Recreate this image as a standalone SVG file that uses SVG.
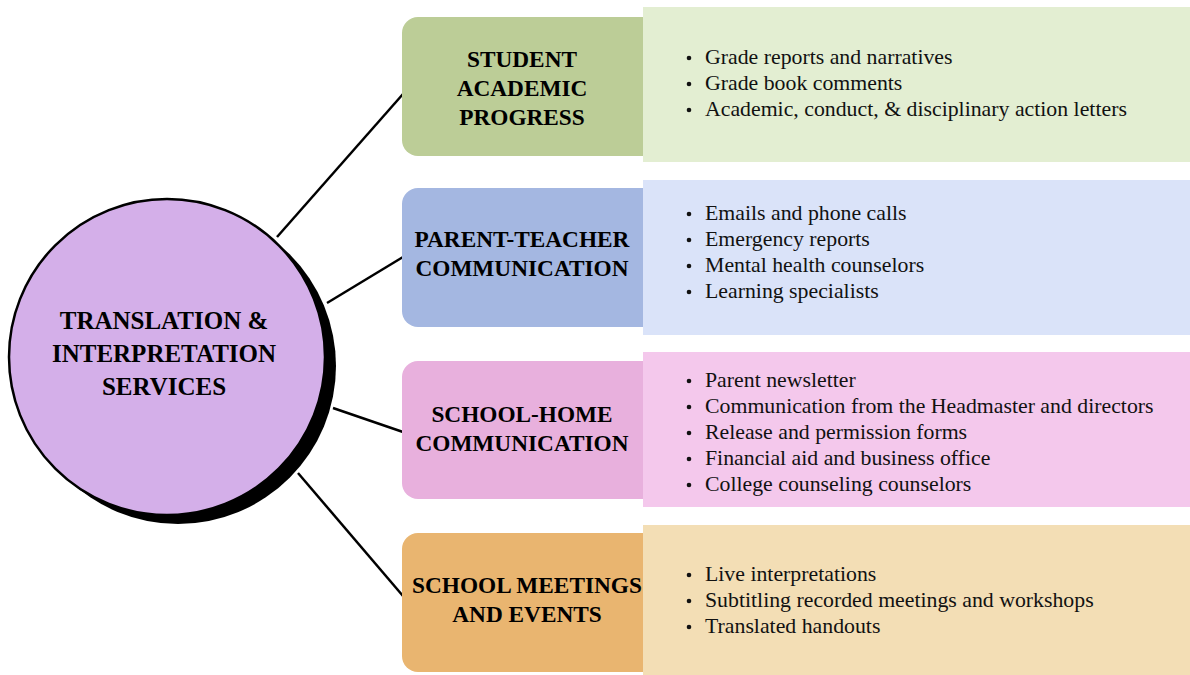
<svg xmlns="http://www.w3.org/2000/svg" width="1190" height="675" viewBox="0 0 1190 675">
  <style>
    .hub-text { font-family: "Liberation Serif", "Times New Roman", serif; font-weight: bold; font-size: 25px; fill: #000; text-anchor: middle; }
    .cat-text { font-family: "Liberation Serif", "Times New Roman", serif; font-weight: bold; font-size: 23.3px; fill: #000; text-anchor: middle; }
    .item { font-family: "Liberation Serif", "Times New Roman", serif; font-size: 21.8px; fill: #111; }
    .bullet { fill: #111; }
    .link { stroke: #000; stroke-width: 2.5; fill: none; }
  </style>
  <rect width="1190" height="675" fill="#ffffff"/>

  <!-- connectors from the hub to each category -->
  <g id="connectors">
    <line class="link" x1="277" y1="237" x2="403" y2="94"/>
    <line class="link" x1="327" y1="303" x2="403" y2="257"/>
    <line class="link" x1="333" y1="408" x2="403" y2="432"/>
    <line class="link" x1="298" y1="473" x2="403" y2="596"/>
  </g>

  <!-- central hub with drop shadow -->
  <g id="hub">
    <circle cx="178" cy="366" r="158" fill="#000"/>
    <circle cx="167" cy="357" r="158" fill="#d4afe9" stroke="#000" stroke-width="2.5"/>
    <text class="hub-text" x="164" y="329">TRANSLATION &amp;</text>
    <text class="hub-text" x="164" y="362">INTERPRETATION</text>
    <text class="hub-text" x="164" y="395">SERVICES</text>
  </g>

  <!-- category 1 -->
  <g id="student-academic-progress">
    <rect x="402" y="17" width="270" height="139" rx="16" fill="#bccd97"/>
    <rect x="643" y="7" width="547" height="155" fill="#e3eed2"/>
    <text class="cat-text" x="522" y="67">STUDENT</text>
    <text class="cat-text" x="522" y="96">ACADEMIC</text>
    <text class="cat-text" x="522" y="125">PROGRESS</text>
    <circle class="bullet" cx="689" cy="58" r="2.3"/>
    <circle class="bullet" cx="689" cy="84" r="2.3"/>
    <circle class="bullet" cx="689" cy="110" r="2.3"/>
    <text class="item" x="705" y="64">Grade reports and narratives</text>
    <text class="item" x="705" y="90">Grade book comments</text>
    <text class="item" x="705" y="116">Academic, conduct, &amp; disciplinary action letters</text>
  </g>

  <!-- category 2 -->
  <g id="parent-teacher-communication">
    <rect x="402" y="188" width="270" height="139" rx="16" fill="#a4b7e1"/>
    <rect x="643" y="180" width="547" height="155" fill="#dae3f9"/>
    <text class="cat-text" x="522" y="247">PARENT-TEACHER</text>
    <text class="cat-text" x="522" y="276">COMMUNICATION</text>
    <circle class="bullet" cx="689" cy="214" r="2.3"/>
    <circle class="bullet" cx="689" cy="240" r="2.3"/>
    <circle class="bullet" cx="689" cy="266" r="2.3"/>
    <circle class="bullet" cx="689" cy="292" r="2.3"/>
    <text class="item" x="705" y="220">Emails and phone calls</text>
    <text class="item" x="705" y="246">Emergency reports</text>
    <text class="item" x="705" y="272">Mental health counselors</text>
    <text class="item" x="705" y="298">Learning specialists</text>
  </g>

  <!-- category 3 -->
  <g id="school-home-communication">
    <rect x="402" y="361" width="270" height="138" rx="16" fill="#e8b0dd"/>
    <rect x="643" y="352" width="547" height="155" fill="#f4c8ec"/>
    <text class="cat-text" x="522" y="422">SCHOOL-HOME</text>
    <text class="cat-text" x="522" y="451">COMMUNICATION</text>
    <circle class="bullet" cx="689" cy="381" r="2.3"/>
    <circle class="bullet" cx="689" cy="407" r="2.3"/>
    <circle class="bullet" cx="689" cy="433" r="2.3"/>
    <circle class="bullet" cx="689" cy="459" r="2.3"/>
    <circle class="bullet" cx="689" cy="485" r="2.3"/>
    <text class="item" x="705" y="387">Parent newsletter</text>
    <text class="item" x="705" y="413">Communication from the Headmaster and directors</text>
    <text class="item" x="705" y="439">Release and permission forms</text>
    <text class="item" x="705" y="465">Financial aid and business office</text>
    <text class="item" x="705" y="491">College counseling counselors</text>
  </g>

  <!-- category 4 -->
  <g id="school-meetings-and-events">
    <rect x="402" y="533" width="270" height="139" rx="16" fill="#e9b570"/>
    <rect x="643" y="525" width="547" height="150" fill="#f3deb5"/>
    <text class="cat-text" x="527" y="593">SCHOOL MEETINGS</text>
    <text class="cat-text" x="527" y="622">AND EVENTS</text>
    <circle class="bullet" cx="689" cy="575" r="2.3"/>
    <circle class="bullet" cx="689" cy="601" r="2.3"/>
    <circle class="bullet" cx="689" cy="627" r="2.3"/>
    <text class="item" x="705" y="581">Live interpretations</text>
    <text class="item" x="705" y="607">Subtitling recorded meetings and workshops</text>
    <text class="item" x="705" y="633">Translated handouts</text>
  </g>
</svg>
